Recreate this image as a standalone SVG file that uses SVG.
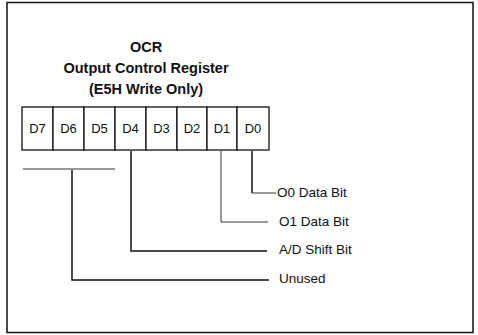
<svg xmlns="http://www.w3.org/2000/svg" width="478" height="335" viewBox="0 0 478 335">
<style>
.frame{fill:none;stroke:#111;stroke-width:1.5}
.cell{fill:#fff;stroke:#111;stroke-width:1.3}
.title{font-family:"Liberation Sans",Arial,sans-serif;font-size:14.5px;font-weight:bold;fill:#111;text-anchor:middle}
.bit{font-family:"Liberation Sans",Arial,sans-serif;font-size:13px;fill:#111;text-anchor:middle}
.lbl{font-family:"Liberation Sans",Arial,sans-serif;font-size:13.5px;fill:#111}
.ln{fill:none;stroke:#111;stroke-width:1.5}
.thin{fill:none;stroke:#333;stroke-width:1}
</style>
<rect width="478" height="335" fill="#fff"/>
<rect class="frame" x="7" y="2.5" width="466" height="330"/>
<g id="title">
<text class="title" x="146" y="52">OCR</text>
<text class="title" x="146" y="73">Output Control Register</text>
<text class="title" x="146" y="94">(E5H Write Only)</text>
</g>
<g id="register">
<rect class="cell" x="22" y="107" width="31" height="43"/>
<rect class="cell" x="53" y="107" width="31" height="43"/>
<rect class="cell" x="84" y="107" width="31" height="43"/>
<rect class="cell" x="115" y="107" width="31" height="43"/>
<rect class="cell" x="146" y="107" width="31" height="43"/>
<rect class="cell" x="177" y="107" width="30" height="43"/>
<rect class="cell" x="207" y="107" width="30" height="43"/>
<rect class="cell" x="237" y="107" width="32" height="43"/>
<text class="bit" x="37.5" y="133">D7</text>
<text class="bit" x="68.5" y="133">D6</text>
<text class="bit" x="99.5" y="133">D5</text>
<text class="bit" x="130.5" y="133">D4</text>
<text class="bit" x="161.5" y="133">D3</text>
<text class="bit" x="192" y="133">D2</text>
<text class="bit" x="222" y="133">D1</text>
<text class="bit" x="253" y="133">D0</text>
</g>
<g id="connectors">
<path class="ln" d="M252 151 V193"/>
<path class="thin" d="M252 193 H276"/>
<path class="thin" d="M221 151 V222 H268"/>
<path class="ln" d="M131 151 V251 H267"/>
<path class="thin" d="M23 169 H115"/>
<path class="ln" d="M72 170 V280 H269"/>
</g>
<g id="labels">
<text class="lbl" x="277" y="197">O0 Data Bit</text>
<text class="lbl" x="279" y="225.5">O1 Data Bit</text>
<text class="lbl" x="279" y="254">A/D Shift Bit</text>
<text class="lbl" x="279" y="282.5">Unused</text>
</g>
</svg>
